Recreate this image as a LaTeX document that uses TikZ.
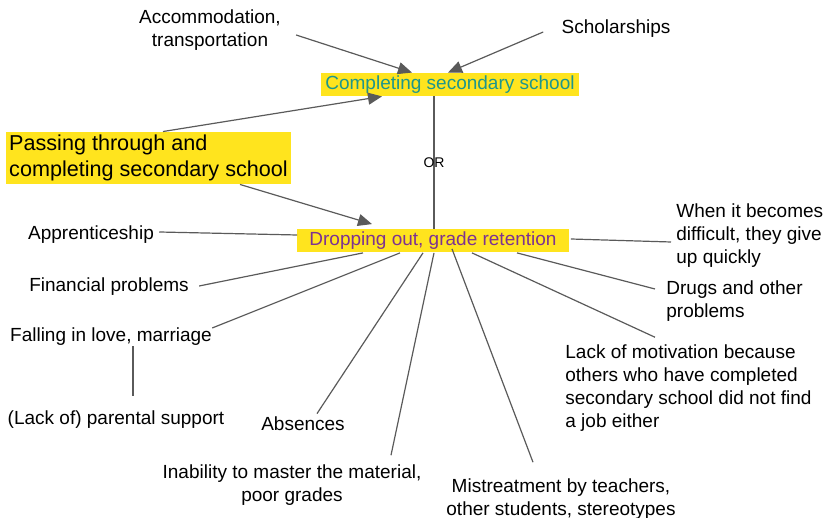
\documentclass[tikz,border=0pt]{standalone}
\usepackage{fontspec}
\setmainfont{Liberation Sans}
\usetikzlibrary{arrows.meta, positioning, calc}
\definecolor{hilite}{RGB}{255,228,30}
\definecolor{tealtext}{RGB}{30,150,140}
\definecolor{purpletext}{RGB}{125,50,145}
\definecolor{linegray}{RGB}{90,90,90}

\begin{document}
\begin{tikzpicture}[
  x=0.5pt, y=-0.5pt,
  txt/.style={inner sep=0pt, font=\fontsize{9.5}{11.5}\selectfont, align=center},
  ltxt/.style={txt, align=left, anchor=west},
  goal/.style={fill=hilite, inner ysep=0pt, minimum height=11.5pt,
               font=\fontsize{9.5}{11.5}\selectfont},
  arr/.style={-{Triangle[length=7pt,width=6pt]}, linegray, line width=0.6pt},
  conn/.style={linegray, line width=0.6pt}
]
  \useasboundingbox (0,0) rectangle (827,518);

  % top concepts
  \node[goal, inner xsep=2pt, text=tealtext] (comp) at (450,84.5) {Completing secondary school};
  \node[txt] (acc) at (210,30) {Accommodation,\\transportation};
  \node[txt] (sch) at (616,29) {Scholarships};
  \node[fill=hilite, inner sep=1.5pt, align=left,
        font=\fontsize{10.8}{13}\selectfont] (pass) at (148.5,158)
        {Passing through and\\completing secondary school};

  % central concept
  \node[goal, inner xsep=6pt, text=purpletext] (drop) at (433,241) {Dropping out, grade retention};

  % causes
  \node[txt] (appr) at (91,235) {Apprenticeship};
  \node[txt] (fin) at (109,287) {Financial problems};
  \node[txt] (fall) at (111,337) {Falling in love, marriage};
  \node[txt] (par) at (116,420) {(Lack of) parental support};
  \node[txt] (abs) at (303,424) {Absences};
  \node[txt] (inab) at (292,485) {Inability to master the material,\\poor grades};
  \node[txt] (mist) at (561,499) {Mistreatment by teachers,\\other students, stereotypes};
  \node[ltxt] (lack) at (565,388) {Lack of motivation because\\others who have completed\\secondary school did not find\\a job either};
  \node[ltxt] (drugs) at (666,301) {Drugs and other\\problems};
  \node[ltxt] (when) at (676,236) {When it becomes\\difficult, they give\\up quickly};

  % arrows into the goals
  \draw[arr] ($(acc.east)+(15,5)$) -- ($(comp.north)+(-38,0)$);
  \draw[arr] ($(sch.west)+(-18,3)$) -- ($(comp.north)+(-2,0)$);
  \draw[arr] ($(pass.north)+(14.5,0)$) -- ($(comp.south)+(-68,0)$);
  \draw[arr] ($(pass.south)+(91.5,0)$) -- ($(drop.north)+(-61,-5)$);
  \draw[conn] ($(comp.south)+(-16,0)$) -- node[text=black, font=\fontsize{7}{8}\selectfont, inner sep=0pt] (or) {OR} ($(drop.north)+(1,0)$);

  % plain links
  \draw[conn] ($(appr.east)+(5,-3)$) -- ($(drop.west)+(0,-6)$);
  \draw[conn] ($(fin.east)+(10,-1)$) -- ($(drop.south)+(-70,0)$);
  \draw[conn] ($(fall.east)+(0,-9)$) -- ($(drop.south)+(-33,0)$);
  \draw[conn] ($(fall.south)+(22,0)$) -- ($(par.north)+(17,-15)$);
  \draw[conn] ($(abs.north)+(14,-3)$) -- ($(drop.south)+(-10,0)$);
  \draw[conn] ($(inab.north)+(99,-9)$) -- ($(drop.south)+(1,0)$);
  \draw[conn] ($(mist.north)+(-28,-16)$) -- ($(drop.south)+(19,-4)$);
  \draw[conn] ($(lack.north west)+(90,-7)$) -- ($(drop.south)+(39,0)$);
  \draw[conn] ($(drugs.west)+(-11,-12)$) -- ($(drop.south)+(84,0)$);
  \draw[conn] ($(when.west)+(-5,6)$) -- ($(drop.east)+(2,-2)$);
\end{tikzpicture}
\end{document}
